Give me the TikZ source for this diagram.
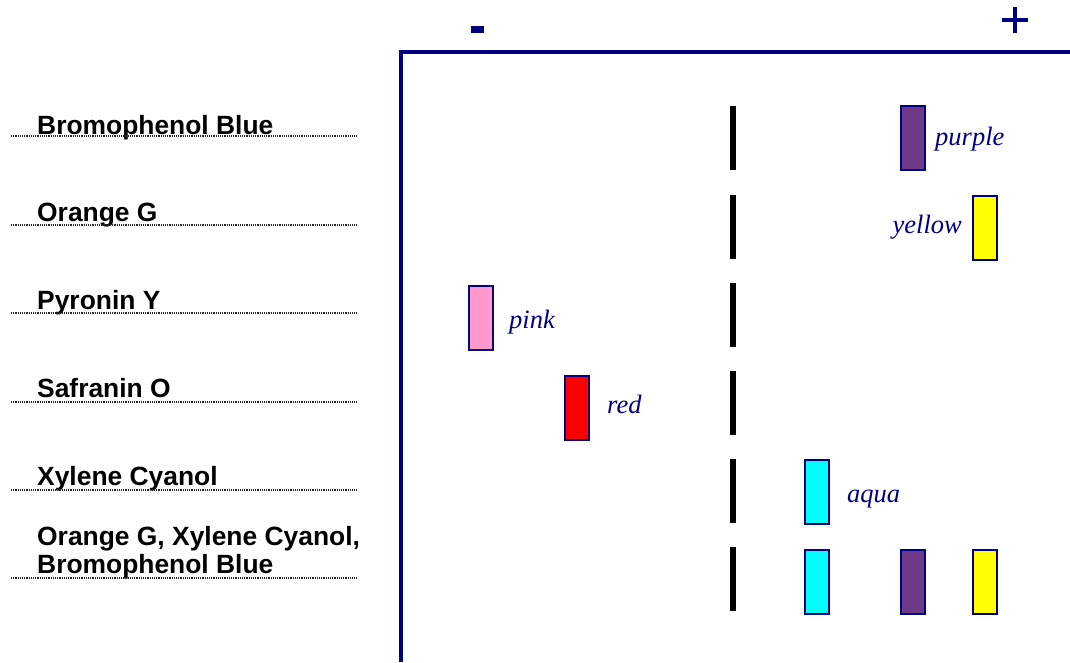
\documentclass[tikz,border=0pt]{standalone}
\usepackage{fontspec}
\setmainfont{Liberation Serif}
\setsansfont{Liberation Sans}
\definecolor{navyc}{RGB}{0,0,128}
\definecolor{purplec}{RGB}{112,56,136}
\definecolor{pinkc}{RGB}{255,153,204}
\definecolor{redc}{RGB}{255,0,0}
\definecolor{aquac}{RGB}{0,255,255}
\definecolor{yellowc}{RGB}{255,255,0}
\tikzset{
  band/.style={rectangle, draw=navyc, line width=1.8pt, minimum width=24pt, minimum height=64pt, inner sep=0pt},
  well/.style={rectangle, fill=black, minimum width=6pt, minimum height=64pt, inner sep=0pt},
  dye/.style={font=\sffamily\bfseries\fontsize{26.4}{30}\selectfont, inner sep=0pt, anchor=base west, align=left},
  clabel/.style={font=\itshape\fontsize{26.5}{30}\selectfont, text=navyc, inner sep=0pt},
  guide/.style={line width=1.1pt, dash pattern=on 1.1pt off 1.1pt, black!85},
  frame/.style={draw=navyc, line width=4pt}
}
\begin{document}
\begin{tikzpicture}[x=1pt,y=-1pt]
\useasboundingbox (0,0) rectangle (1070,662);
% gel frame
\draw[frame] (400.5,662) -- (400.5,52) -- (1070,52);
% electrodes
\node[fill=navyc, minimum width=13pt, minimum height=7.5pt, inner sep=0pt] (minus) at (477.5,29.5) {};
\coordinate (plus) at (1015,20);
\draw[navyc, line width=3.2pt] ([xshift=-13.3pt]plus) -- ([xshift=13.3pt]plus);
\draw[navyc, line width=3.2pt] ([yshift=-13.3pt]plus) -- ([yshift=13.3pt]plus);
% dye labels and guides
\node[dye] (l1) at (37,134) {Bromophenol Blue};
\node[dye] (l2) at (37,221) {Orange G};
\node[dye] (l3) at (37,309) {Pyronin Y};
\node[dye] (l4) at (37,397) {Safranin O};
\node[dye] (l5) at (37,485) {Xylene Cyanol};
\node[dye] (l6a) at (37,545) {Orange G, Xylene Cyanol,};
\node[dye] (l6b) at (37,573) {Bromophenol Blue};
\foreach \y/\n in {136/g1,225/g2,313/g3,402/g4,490/g5,578/g6}{
  \coordinate (\n a) at (11,\y); \coordinate (\n b) at (357,\y);
  \draw[guide] (\n a) -- (\n b);
}
% wells
\foreach \y/\n in {138/w1,227/w2,315/w3,403/w4,491/w5,579/w6}{
  \node[well] (\n) at (733,\y) {};
}
% bands
\node[band, fill=purplec] (b1) at (913,138) {};
\node[band, fill=yellowc] (b2) at (985,228) {};
\node[band, fill=pinkc] (b3) at (481,318) {};
\node[band, fill=redc] (b4) at (577,408) {};
\node[band, fill=aquac] (b5) at (817,492) {};
\node[band, fill=aquac] (b6a) at (817,582) {};
\node[band, fill=purplec] (b6b) at (913,582) {};
\node[band, fill=yellowc] (b6c) at (985,582) {};
% colour labels
\node[clabel, anchor=base west] (t1) at (935,145) {purple};
\node[clabel, anchor=base east] (t2) at (962,233) {yellow};
\node[clabel, anchor=base west] (t3) at (509,328) {pink};
\node[clabel, anchor=base west] (t4) at (607,413) {red};
\node[clabel, anchor=base west] (t5) at (847,502) {aqua};
\end{tikzpicture}
\end{document}
